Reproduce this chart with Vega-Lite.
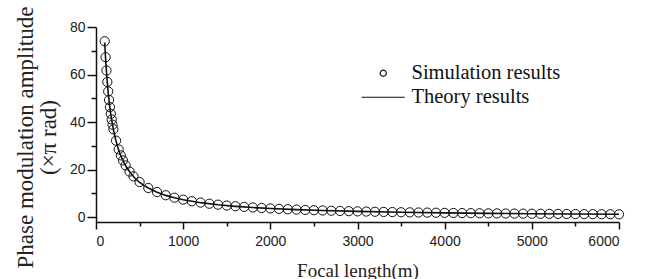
{
  "$schema": "https://vega.github.io/schema/vega-lite/v6.json",
  "width": 523,
  "height": 195,
  "autosize": {"type": "none"},
  "padding": {"left": 96, "top": 27, "right": 30, "bottom": 57},
  "background": "white",
  "config": {
    "view": {"stroke": null},
    "axis": {
      "grid": false,
      "domainColor": "#111",
      "domainWidth": 1.5,
      "tickColor": "#111",
      "tickWidth": 1.5,
      "labelFont": "Liberation Sans",
      "labelFontSize": 14,
      "labelColor": "#222",
      "titleFont": "Liberation Serif",
      "titleColor": "#222",
      "titleFontWeight": "normal"
    }
  },
  "resolve": {"axis": {"x": "independent", "y": "independent"}},
  "datasets": {
    "theory": [
      {"f": 100, "a": 73.5}, {"f": 110, "a": 66.8}, {"f": 120, "a": 61.3}, {"f": 130, "a": 56.5},
      {"f": 140, "a": 52.5}, {"f": 150, "a": 49.0}, {"f": 160, "a": 45.9}, {"f": 170, "a": 43.2},
      {"f": 180, "a": 40.8}, {"f": 200, "a": 36.8}, {"f": 225, "a": 32.7}, {"f": 250, "a": 29.4},
      {"f": 275, "a": 26.7}, {"f": 300, "a": 24.5}, {"f": 350, "a": 21.0}, {"f": 400, "a": 18.4},
      {"f": 450, "a": 16.3}, {"f": 500, "a": 14.7}, {"f": 550, "a": 13.4}, {"f": 600, "a": 12.3},
      {"f": 700, "a": 10.5}, {"f": 800, "a": 9.19}, {"f": 900, "a": 8.17}, {"f": 1000, "a": 7.35},
      {"f": 1200, "a": 6.13}, {"f": 1400, "a": 5.25}, {"f": 1600, "a": 4.59}, {"f": 1800, "a": 4.08},
      {"f": 2000, "a": 3.68}, {"f": 2300, "a": 3.2}, {"f": 2600, "a": 2.83}, {"f": 3000, "a": 2.45},
      {"f": 3500, "a": 2.1}, {"f": 4000, "a": 1.84}, {"f": 4500, "a": 1.63}, {"f": 5000, "a": 1.47},
      {"f": 5500, "a": 1.34}, {"f": 6000, "a": 1.23}
    ],
    "sim": [
      {"f": 100, "a": 74.0}, {"f": 110, "a": 67.3}, {"f": 120, "a": 61.7}, {"f": 130, "a": 56.9},
      {"f": 140, "a": 52.9}, {"f": 150, "a": 49.3}, {"f": 160, "a": 46.3}, {"f": 170, "a": 43.5},
      {"f": 180, "a": 41.1}, {"f": 190, "a": 38.9}, {"f": 200, "a": 37.0}, {"f": 230, "a": 32.2},
      {"f": 260, "a": 28.5}, {"f": 285, "a": 26.0}, {"f": 310, "a": 23.9}, {"f": 340, "a": 21.8},
      {"f": 385, "a": 19.2}, {"f": 430, "a": 17.2}, {"f": 500, "a": 14.8}, {"f": 600, "a": 12.3},
      {"f": 700, "a": 10.6}, {"f": 800, "a": 9.25}, {"f": 900, "a": 8.22}, {"f": 1000, "a": 7.4},
      {"f": 1100, "a": 6.73}, {"f": 1200, "a": 6.17}, {"f": 1300, "a": 5.69}, {"f": 1400, "a": 5.29},
      {"f": 1500, "a": 4.93}, {"f": 1600, "a": 4.63}, {"f": 1700, "a": 4.35}, {"f": 1800, "a": 4.11},
      {"f": 1900, "a": 3.89}, {"f": 2000, "a": 3.7}, {"f": 2100, "a": 3.52}, {"f": 2200, "a": 3.36},
      {"f": 2300, "a": 3.22}, {"f": 2400, "a": 3.08}, {"f": 2500, "a": 2.96}, {"f": 2600, "a": 2.85},
      {"f": 2700, "a": 2.74}, {"f": 2800, "a": 2.64}, {"f": 2900, "a": 2.55}, {"f": 3000, "a": 2.47},
      {"f": 3100, "a": 2.39}, {"f": 3200, "a": 2.31}, {"f": 3300, "a": 2.24}, {"f": 3400, "a": 2.18},
      {"f": 3500, "a": 2.11}, {"f": 3600, "a": 2.06}, {"f": 3700, "a": 2.0}, {"f": 3800, "a": 1.95},
      {"f": 3900, "a": 1.9}, {"f": 4000, "a": 1.85}, {"f": 4100, "a": 1.8}, {"f": 4200, "a": 1.76},
      {"f": 4300, "a": 1.72}, {"f": 4400, "a": 1.68}, {"f": 4500, "a": 1.64}, {"f": 4600, "a": 1.61},
      {"f": 4700, "a": 1.57}, {"f": 4800, "a": 1.54}, {"f": 4900, "a": 1.51}, {"f": 5000, "a": 1.48},
      {"f": 5100, "a": 1.45}, {"f": 5200, "a": 1.42}, {"f": 5300, "a": 1.4}, {"f": 5400, "a": 1.37},
      {"f": 5500, "a": 1.35}, {"f": 5600, "a": 1.32}, {"f": 5700, "a": 1.3}, {"f": 5800, "a": 1.28},
      {"f": 5900, "a": 1.25}, {"f": 6000, "a": 1.23}
    ]
  },
  "layer": [
    {
      "data": {"name": "theory"},
      "mark": {"type": "line", "color": "#111", "strokeWidth": 1.6},
      "encoding": {
        "x": {
          "field": "f", "type": "quantitative",
          "scale": {"domain": [0, 6000], "nice": false},
          "axis": {"orient": "bottom", "values": [500, 1500, 2500, 3500, 4500, 5500], "labels": false, "domain": false, "tickSize": 4, "title": null}
        },
        "y": {
          "field": "a", "type": "quantitative",
          "scale": {"domain": [-2, 80], "nice": false, "zero": false},
          "axis": {"orient": "left", "values": [10, 30, 50, 70], "labels": false, "domain": false, "tickSize": 5, "title": null}
        }
      }
    },
    {
      "data": {"name": "sim"},
      "mark": {"type": "point", "filled": false, "color": "#111", "size": 85, "strokeWidth": 1, "opacity": 1},
      "encoding": {
        "x": {
          "field": "f", "type": "quantitative",
          "axis": {
            "orient": "bottom", "values": [0, 1000, 2000, 3000, 4000, 5000, 6000],
            "tickSize": 7, "labelPadding": 5, "format": "d",
            "title": "Focal length(m)", "titleFontSize": 19,
            "titleY": 54, "titleBaseline": "alphabetic"
          }
        },
        "y": {
          "field": "a", "type": "quantitative",
          "axis": {
            "orient": "left", "values": [0, 20, 40, 60, 80],
            "tickSize": 9, "labelPadding": 2,
            "title": ["Phase modulation amplitude", "(×π rad)"],
            "titleFontSize": 23, "titleLineHeight": 23,
            "titleX": -71, "titleY": 110, "titleAlign": "center", "titleBaseline": "middle", "titleAngle": 270
          }
        },
        "shape": {
          "datum": "Simulation results",
          "scale": {"domain": ["Simulation results", "Theory results"], "range": ["circle", "M-7,0H7"]},
          "legend": {
            "orient": "none", "legendX": 277, "legendY": 36, "title": null,
            "symbolSize": 38, "symbolStrokeColor": "#111", "symbolStrokeWidth": 1.2,
            "symbolFillColor": "transparent", "symbolType": "circle",
            "labelFont": "Liberation Serif", "labelFontSize": 20.5, "labelColor": "#111",
            "labelOffset": 18, "rowPadding": 3, "padding": 0
          }
        }
      }
    }
  ]
}
